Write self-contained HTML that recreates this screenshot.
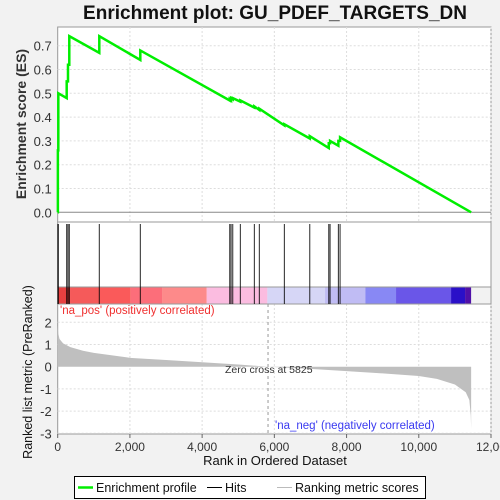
<!DOCTYPE html>
<html><head><meta charset="utf-8"><style>
html,body{margin:0;padding:0;background:#f2f2f2;width:500px;height:500px;overflow:hidden}
svg{display:block;font-family:"Liberation Sans",sans-serif}
</style></head><body>
<svg id="c" width="500" height="500" xmlns="http://www.w3.org/2000/svg">
<text x="275" y="19" text-anchor="middle" font-size="19" font-weight="bold" fill="#111">Enrichment plot: GU_PDEF_TARGETS_DN</text>
<g id="g"></g>
</svg>
<script>
const hitRanks=[5,17,249,285,321,1152,2288,4765,4801,4848,5058,5446,5584,6277,6981,7507,7543,7773,7820];
const esBefore=[0,0.26,0.48,0.55,0.62,0.67,0.64,0.47,0.47,0.475,0.465,0.44,0.43,0.365,0.31,0.27,0.29,0.28,0.30];
const esAfter=[0.26,0.50,0.55,0.62,0.74,0.74,0.68,0.475,0.48,0.48,0.47,0.445,0.435,0.37,0.32,0.29,0.30,0.30,0.315];
const endRank=11450;
const metricRanks=[0,15,50,150,350,700,1000,2000,3000,4000,5000,5825,7000,8000,9000,10000,10500,11000,11300,11400,11440,11450];
const metricVals=[1.85,1.5,1.25,1.05,0.88,0.72,0.62,0.4,0.3,0.2,0.1,0,-0.1,-0.2,-0.3,-0.42,-0.55,-0.8,-1.15,-1.5,-2.2,-2.8];
const xTicks=[0,2000,4000,6000,8000,10000,12000];
const xTickLabels=["0","2,000","4,000","6,000","8,000","10,000","12,00"];
const esTicks=[0,0.1,0.2,0.3,0.4,0.5,0.6,0.7];
const mTicks=[2,1,0,-1,-2,-3];
const barColors=["#e84040","#f55a5a","#fa5a5a","#fc6e7a","#fd8a8a","#fbbce0","#d6d6f6","#c0bcf4","#8888f4","#6a56e8","#2a10c8","#5010a8"];
const barEdges=[0,341,1152,2022,2889,4127,5806,7404,8521,9370,10894,11282,11449];

const L=57.7,R=491,X=r=>L+r*(R-L)/12000;
const ES=v=>212.3-v*238;
const M=v=>366.7-v*22.2;
const g=document.getElementById('g');
const NS="http://www.w3.org/2000/svg";
function mk(t,a,p){const e=document.createElementNS(NS,t);for(const k in a)e.setAttribute(k,a[k]);(p||g).appendChild(e);return e;}
let p1=mk('rect',{x:L,y:27,width:R-L,height:195,fill:'#fff',stroke:'#999'});


let p2=mk('rect',{x:L,y:222,width:R-L,height:65,fill:'#fff',stroke:'#999'});


let p3=mk('rect',{x:L,y:304,width:R-L,height:130,fill:'#fff',stroke:'#999'});


xTicks.forEach(t=>{if(t==0)return;
 mk('line',{x1:X(t),x2:X(t),y1:27,y2:222,stroke:'#ddd','stroke-dasharray':'2,2'});
 mk('line',{x1:X(t),x2:X(t),y1:304,y2:434,stroke:'#ddd','stroke-dasharray':'2,2'});});
esTicks.forEach(t=>{mk('line',{x1:L,x2:R,y1:ES(t),y2:ES(t),stroke:t==0?'#888':'#ddd','stroke-dasharray':t==0?'':'2,2'});
 const tx=mk('text',{x:L-6,y:ES(t)+5,'text-anchor':'end','font-size':'13',fill:'#333'});tx.textContent=t.toFixed(1);
 
 });
mTicks.forEach(t=>{if(t!=0)mk('line',{x1:L,x2:R,y1:M(t),y2:M(t),stroke:'#ddd','stroke-dasharray':'2,2'});
 const tx=mk('text',{x:L-6,y:M(t)+5,'text-anchor':'end','font-size':'13',fill:'#333'});tx.textContent=t;
 
 });
for(let i=0;i<barColors.length;i++){const x1=X(barEdges[i]),x2=X(barEdges[i+1]);if(x2<=x1)continue;
 const r=mk('rect',{x:x1,y:287,width:x2-x1,height:17,fill:barColors[i]});
 
 }
mk('rect',{x:L,y:287,width:R-L,height:17,fill:'none',stroke:'#999'});
hitRanks.forEach(r=>{const l=mk('line',{x1:X(r),x2:X(r),y1:224,y2:304,stroke:'#000','stroke-width':'1','stroke-opacity':'0.85'});
 
 });
let d='M'+X(0)+','+M(0);
metricRanks.forEach((r,i)=>{d+=' L'+X(r)+','+M(metricVals[i]);});
d+=' L'+X(endRank)+','+M(0)+' Z';
const ar=mk('path',{d:d,fill:'#bfbfbf',stroke:'none'});


mk('line',{x1:X(5825),x2:X(5825),y1:304,y2:434,stroke:'#999','stroke-dasharray':'3,3'});
let pts=[[0,0]];
hitRanks.forEach((r,i)=>{pts.push([r,esBefore[i]]);pts.push([r,esAfter[i]]);});
pts.push([endRank,0]);
const pl=mk('polyline',{points:pts.map(p=>X(p[0])+','+ES(p[1])).join(' '),fill:'none',stroke:'#00ee00','stroke-width':'2.5'});


xTicks.forEach((t,i)=>{mk('line',{x1:X(t),x2:X(t),y1:434,y2:438,stroke:'#666'});
 const tx=mk('text',{x:X(t),y:451,'text-anchor':'middle','font-size':'12',fill:'#333'});tx.textContent=xTickLabels[i];
 
 });
function txt(s,a,n){const t=mk('text',a);t.textContent=s;return t;}
txt("'na_pos' (positively correlated)",{x:60,y:314,'font-size':'11.5',fill:'#f03030'},'pos-label');
txt("'na_neg' (negatively correlated)",{x:275,y:429,'font-size':'11.5',fill:'#3a3af0'},'neg-label');
txt("Zero cross at 5825",{x:225,y:373,'font-size':'10.5',fill:'#333'},'zero-cross-label');
txt("Rank in Ordered Dataset",{x:275,y:465,'text-anchor':'middle','font-size':'13',fill:'#111'},'x-axis-title');
txt("Enrichment score (ES)",{x:0,y:0,'text-anchor':'middle','font-size':'14','font-weight':'bold',fill:'#333',transform:'translate(26,124) rotate(-90)'},'es-axis-title');
txt("Ranked list metric (PreRanked)",{x:0,y:0,'text-anchor':'middle','font-size':'12.5',fill:'#111',transform:'translate(32,372) rotate(-90)'},'metric-axis-title');
const lg=mk('g',{});
mk('rect',{x:74.5,y:476.5,width:351,height:22,fill:'#fff',stroke:'#000'},lg);
mk('line',{x1:78,x2:93,y1:487.5,y2:487.5,stroke:'#00ee00','stroke-width':'2.5'},lg);
let t1=mk('text',{x:96,y:492,'font-size':'12.5',fill:'#111'},lg);t1.textContent='Enrichment profile';
mk('line',{x1:207,x2:222,y1:487.5,y2:487.5,stroke:'#000'},lg);
let t2=mk('text',{x:225,y:492,'font-size':'12.5',fill:'#111'},lg);t2.textContent='Hits';
mk('line',{x1:277,x2:292,y1:487.5,y2:487.5,stroke:'#bbb'},lg);
let t3=mk('text',{x:295,y:492,'font-size':'12.5',fill:'#111'},lg);t3.textContent='Ranking metric scores';
</script>
</body></html>
